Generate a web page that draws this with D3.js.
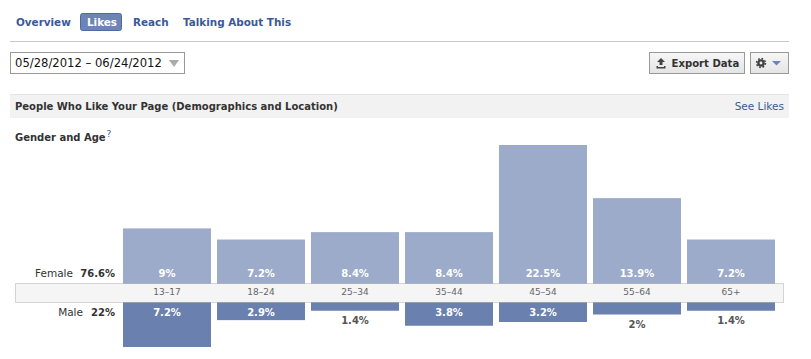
<!DOCTYPE html>
<html>
<head>
<meta charset="utf-8">
<script src="https://cdn.jsdelivr.net/npm/d3@7.9.0/dist/d3.min.js"></script>
<style>
  html, body { margin: 0; padding: 0; background: #fff; overflow: hidden; }
  svg { display: block; }
  text { font-family: "DejaVu Sans", sans-serif; font-size: 10px; }
</style>
</head>
<body>
<div id="chart"></div>
<script>
const ageGroups = ['13-17', '18-24', '25-34', '35-44', '45-54', '55-64', '65+'];
const femaleValues = [9, 7.2, 8.4, 8.4, 22.5, 13.9, 7.2];
const maleValues = [7.2, 2.9, 1.4, 3.8, 3.2, 2, 1.4];
const tabs = ['Overview', 'Likes', 'Reach', 'Talking About This'];
const tabX = [16, 87, 133, 183];

const width = 811;
const height = 359;

const svg = d3.select('#chart').append('svg')
  .attr('width', width)
  .attr('height', height);

const xScale = d3.scaleBand()
  .domain(ageGroups)
  .range([120, 778])
  .paddingInner(6 / 94)
  .paddingOuter(3 / 94);

const femaleY = d3.scaleLinear().domain([0, 22.5]).range([284, 145]);
const maleY = d3.scaleLinear().domain([0, 7.2]).range([302, 347]);

// tabs
svg.append('rect')
  .attr('x', 80.5).attr('y', 13.5).attr('width', 41).attr('height', 17).attr('rx', 2)
  .attr('fill', '#6d84b4').attr('stroke', '#4f6aa3');

svg.selectAll('.tab')
  .data(tabs)
  .join('text')
  .attr('class', 'tab')
  .attr('x', (d, i) => tabX[i])
  .attr('y', 26)
  .attr('font-weight', 'bold')
  .attr('fill', (d) => d === 'Likes' ? '#fff' : '#3b5998')
  .style('font-size', '10.4px')
  .text((d) => d);

svg.append('rect').attr('x', 10).attr('y', 41).attr('width', 779).attr('height', 1).attr('fill', '#c9c9c9');

// date picker
svg.append('rect')
  .attr('x', 10.5).attr('y', 52.5).attr('width', 174).attr('height', 21)
  .attr('fill', '#fff').attr('stroke', '#999');
svg.append('text').attr('x', 15).attr('y', 67).attr('fill', '#111').style('font-size', '11.6px')
  .text('05/28/2012 – 06/24/2012');
svg.append('path').attr('d', 'M169 60h10l-5 7z').attr('fill', '#aaa');

// buttons
const btnGrad = svg.append('defs').append('linearGradient')
  .attr('id', 'btn').attr('x1', 0).attr('x2', 0).attr('y1', 0).attr('y2', 1);
btnGrad.append('stop').attr('offset', 0).attr('stop-color', '#f7f7f7');
btnGrad.append('stop').attr('offset', 1).attr('stop-color', '#e4e4e4');

svg.append('rect')
  .attr('x', 649.5).attr('y', 52.5).attr('width', 95).attr('height', 21)
  .attr('fill', 'url(#btn)').attr('stroke', '#999');
svg.append('path').attr('d', 'M661 58l-4 4h2.5v3h3v-3h2.5zM656.5 66v2.5h9v-2.5h-1.5v1h-6v-1z').attr('fill', '#444');
svg.append('text').attr('x', 671.5).attr('y', 67).attr('font-weight', 'bold').attr('fill', '#333')
  .style('font-size', '10.1px').text('Export Data');

svg.append('rect')
  .attr('x', 750.5).attr('y', 52.5).attr('width', 38).attr('height', 21)
  .attr('fill', 'url(#btn)').attr('stroke', '#999');
// gear: ring plus dashed outer ring for the teeth
svg.append('circle').attr('cx', 761).attr('cy', 63).attr('r', 2.6).attr('fill', 'none').attr('stroke', '#444').attr('stroke-width', 2.4);
svg.append('circle').attr('cx', 761).attr('cy', 63).attr('r', 4.4).attr('fill', 'none').attr('stroke', '#444')
  .attr('stroke-width', 1.6).attr('stroke-dasharray', '1.7 1.75');
svg.append('path').attr('d', 'M772 61h9l-4.5 4.5z').attr('fill', '#6d84b4');

// section header
svg.append('rect').attr('x', 10).attr('y', 94).attr('width', 779).attr('height', 24).attr('fill', '#f2f2f2');
svg.append('rect').attr('x', 10).attr('y', 94).attr('width', 779).attr('height', 1).attr('fill', '#e5e5e5');
svg.append('text').attr('x', 15).attr('y', 110).attr('font-weight', 'bold').attr('fill', '#333')
  .text('People Who Like Your Page (Demographics and Location)');
svg.append('text').attr('x', 784).attr('y', 110).attr('text-anchor', 'end').attr('fill', '#3b5998')
  .style('font-size', '10.5px').text('See Likes');

svg.append('text').attr('x', 15).attr('y', 141).attr('font-weight', 'bold').attr('fill', '#333').text('Gender and Age');
svg.append('text').attr('x', 106.5).attr('y', 137).attr('fill', '#3b5998').style('font-size', '9px').text('?');

// female bars
svg.append('g').selectAll('rect')
  .data(femaleValues)
  .join('rect')
  .attr('x', (d, i) => xScale(ageGroups[i]))
  .attr('y', (d) => femaleY(d))
  .attr('width', xScale.bandwidth())
  .attr('height', (d) => femaleY(0) - femaleY(d))
  .attr('fill', '#9dabca');

svg.append('g').selectAll('text')
  .data(femaleValues)
  .join('text')
  .attr('x', (d, i) => xScale(ageGroups[i]) + xScale.bandwidth() / 2)
  .attr('y', 277)
  .attr('text-anchor', 'middle')
  .attr('font-weight', 'bold')
  .attr('fill', '#fff')
  .text((d) => d + '%');

// male bars
svg.append('g').selectAll('rect')
  .data(maleValues)
  .join('rect')
  .attr('x', (d, i) => xScale(ageGroups[i]))
  .attr('y', maleY(0))
  .attr('width', xScale.bandwidth())
  .attr('height', (d) => maleY(d) - maleY(0))
  .attr('fill', '#6a80af');

svg.append('g').selectAll('text')
  .data(maleValues)
  .join('text')
  .attr('x', (d, i) => xScale(ageGroups[i]) + xScale.bandwidth() / 2)
  .attr('y', (d) => d >= 2.9 ? 316 : maleY(d) + 13)
  .attr('text-anchor', 'middle')
  .attr('font-weight', 'bold')
  .attr('fill', (d) => d >= 2.9 ? '#fff' : '#555')
  .text((d) => d + '%');

// age strip, drawn over the bar bases
svg.append('rect')
  .attr('x', 15.5).attr('y', 283.5).attr('width', 768).attr('height', 19)
  .attr('fill', '#f5f5f5').attr('stroke', '#000').attr('stroke-opacity', 0.15);

const xAxis = svg.append('g')
  .attr('transform', 'translate(0, 289)')
  .call(d3.axisBottom(xScale).tickSize(0).tickPadding(0).tickFormat((d) => d.replace('-', '–')));
xAxis.select('.domain').remove();
xAxis.selectAll('text')
  .attr('fill', '#666')
  .style('font-family', '"DejaVu Sans", sans-serif')
  .style('font-size', '9px');

// gender totals
svg.append('text').attr('x', 73).attr('y', 277).attr('text-anchor', 'end').attr('fill', '#333').style('font-size', '10.5px').text('Female');
svg.append('text').attr('x', 115).attr('y', 277).attr('text-anchor', 'end').attr('font-weight', 'bold').attr('fill', '#333').text('76.6%');
svg.append('text').attr('x', 83).attr('y', 316).attr('text-anchor', 'end').attr('fill', '#333').style('font-size', '10.5px').text('Male');
svg.append('text').attr('x', 115).attr('y', 316).attr('text-anchor', 'end').attr('font-weight', 'bold').attr('fill', '#333').text('22%');
</script>
</body>
</html>
